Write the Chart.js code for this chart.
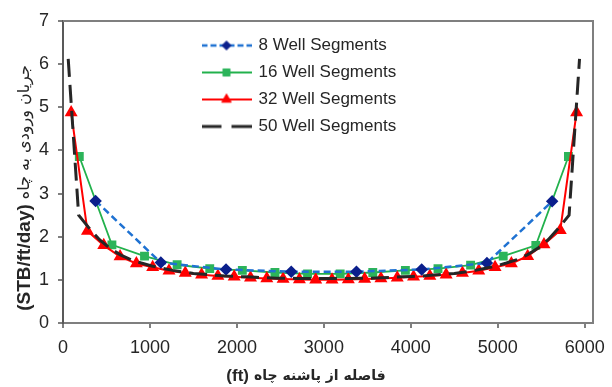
<!DOCTYPE html>
<html>
<head>
<meta charset="utf-8">
<script src="https://cdn.jsdelivr.net/npm/chart.js@4.4.1/dist/chart.umd.min.js"></script>
<style>
  html, body { margin: 0; padding: 0; background: #fff; }
</style>
</head>
<body>
<canvas id="inflow-Chart" width="612" height="387"></canvas>
<script>
const seriesNames = ["8 Well Segments", "16 Well Segments", "32 Well Segments", "50 Well Segments"];

const x8 = [375, 1125, 1875, 2625, 3375, 4125, 4875, 5625];
const y8 = [2.83, 1.40, 1.24, 1.19, 1.19, 1.24, 1.39, 2.82];

const x16 = [187.5, 562.5, 937.5, 1312.5, 1687.5, 2062.5, 2437.5, 2812.5,
  3187.5, 3562.5, 3937.5, 4312.5, 4687.5, 5062.5, 5437.5, 5812.5];
const y16 = [3.86, 1.81, 1.55, 1.35, 1.26, 1.22, 1.17, 1.14,
  1.14, 1.17, 1.22, 1.26, 1.34, 1.55, 1.80, 3.86];

const x32 = [93.75, 281.25, 468.75, 656.25, 843.75, 1031.25, 1218.75, 1406.25,
  1593.75, 1781.25, 1968.75, 2156.25, 2343.75, 2531.25, 2718.75, 2906.25,
  3093.75, 3281.25, 3468.75, 3656.25, 3843.75, 4031.25, 4218.75, 4406.25,
  4593.75, 4781.25, 4968.75, 5156.25, 5343.75, 5531.25, 5718.75, 5906.25];
const y32 = [4.88, 2.13, 1.80, 1.54, 1.38, 1.29, 1.21, 1.16,
  1.12, 1.09, 1.07, 1.05, 1.03, 1.02, 1.01, 1.00,
  1.00, 1.01, 1.02, 1.03, 1.05, 1.07, 1.09, 1.12,
  1.16, 1.21, 1.29, 1.38, 1.55, 1.82, 2.15, 4.88];

const x50 = [60, 180, 300, 420, 540, 660, 780, 900, 1020, 1140,
  1260, 1380, 1500, 1620, 1740, 1860, 1980, 2100, 2220, 2340,
  2460, 2580, 2700, 2820, 2940, 3060, 3180, 3300, 3420, 3540,
  3660, 3780, 3900, 4020, 4140, 4260, 4380, 4500, 4620, 4740,
  4860, 4980, 5100, 5220, 5340, 5460, 5580, 5700, 5820, 5940];
const y50 = [6.12, 2.50, 2.20, 1.93, 1.73, 1.58, 1.47, 1.39, 1.32, 1.27,
  1.22, 1.18, 1.15, 1.13, 1.11, 1.09, 1.08, 1.07, 1.06, 1.05,
  1.04, 1.04, 1.03, 1.03, 1.03, 1.03, 1.03, 1.03, 1.04, 1.04,
  1.05, 1.06, 1.07, 1.08, 1.09, 1.11, 1.13, 1.15, 1.18, 1.22,
  1.27, 1.32, 1.39, 1.47, 1.58, 1.73, 1.93, 2.20, 2.50, 6.12];

const xTicks = [0, 1000, 2000, 3000, 4000, 5000, 6000];
const yTicks = [0, 1, 2, 3, 4, 5, 6, 7];

const xTitleUnit = "(ft)";
const xTitleName = "فاصله از پاشنه چاه";
const yTitleUnit = "(STB/ft/day)";
const yTitleName = "جریان ورودی به چاه";

const LATIN = '"Liberation Sans", Arial, sans-serif';
const AXIS = "#7f7f7f";
const TEXT = "#262626";

function pts(xs, ys) {
  return xs.map((x, i) => ({ x: x, y: ys[i] }));
}

// little line+marker pictures for the legend (Excel style samples)
function sample(color, dash, lw, marker, mColor, r) {
  const c = document.createElement("canvas");
  c.width = 50; c.height = 14;
  const g = c.getContext("2d");
  g.strokeStyle = color; g.lineWidth = lw; g.setLineDash(dash);
  g.beginPath(); g.moveTo(0, 7); g.lineTo(50, 7); g.stroke();
  g.setLineDash([]);
  if (marker) {
    g.fillStyle = mColor; g.strokeStyle = mColor; g.lineWidth = 1;
    g.beginPath();
    if (marker === "rectRot") {
      g.moveTo(25 - r, 7); g.lineTo(25, 7 - r); g.lineTo(25 + r, 7); g.lineTo(25, 7 + r);
    } else if (marker === "rect") {
      const s = r * Math.SQRT1_2;
      g.rect(25 - s, 7 - s, 2 * s, 2 * s);
    } else {
      g.moveTo(25, 7 - r); g.lineTo(25 + r * 0.866, 7 + r / 2); g.lineTo(25 - r * 0.866, 7 + r / 2);
    }
    g.closePath(); g.fill(); g.stroke();
  }
  return c;
}

const datasets = [
  {
    label: seriesNames[0], data: pts(x8, y8),
    borderColor: "#1f72d2", borderWidth: 2.5, borderDash: [7, 4],
    pointStyle: "rectRot", pointRadius: 4.5, pointBackgroundColor: "#0b1f8c", pointBorderColor: "#0b1f8c",
    order: 1, sample: sample("#1f72d2", [6, 3], 2.5, "rectRot", "#0b1f8c", 4.5)
  },
  {
    label: seriesNames[1], data: pts(x16, y16),
    borderColor: "#22b14c", borderWidth: 1.8,
    pointStyle: "rect", pointRadius: 5, pointBackgroundColor: "#2cb45a", pointBorderColor: "#2cb45a",
    order: 3, sample: sample("#22b14c", [], 1.8, "rect", "#2cb45a", 5)
  },
  {
    label: seriesNames[2], data: pts(x32, y32),
    borderColor: "#ff0000", borderWidth: 2,
    pointStyle: "triangle", pointRadius: 5.5, pointBackgroundColor: "#ff0000", pointBorderColor: "#ff0000",
    order: 2, sample: sample("#ff0000", [], 2, "triangle", "#ff0000", 5.5)
  },
  {
    label: seriesNames[3], data: pts(x50, y50),
    borderColor: "#262626", borderWidth: 3, borderDash: [18, 8],
    pointRadius: 0,
    order: 0, sample: sample("#262626", [20, 10], 3, null)
  }
];

// put the legend inside the plot, like the original
const legendSpot = {
  id: "legendSpot",
  afterLayout(chart) {
    const lg = chart.legend;
    lg.left = 193; lg.right = 193 + lg.width;
    lg.top = 27; lg.bottom = 27 + lg.height;
  }
};

// top/right frame plus the two axis titles
const frameAndTitles = {
  id: "frameAndTitles",
  afterDraw(chart) {
    const ctx = chart.ctx, a = chart.chartArea;
    ctx.save();
    ctx.strokeStyle = AXIS; ctx.lineWidth = 2;
    ctx.beginPath();
    ctx.moveTo(a.left, a.top); ctx.lineTo(a.right, a.top); ctx.lineTo(a.right, a.bottom);
    ctx.stroke();

    ctx.fillStyle = TEXT; ctx.textBaseline = "middle"; ctx.textAlign = "left";
    // x title
    ctx.font = "bold 17px " + LATIN;
    const u1 = ctx.measureText(xTitleUnit).width;
    ctx.font = 'bold 14px "DejaVu Sans", sans-serif';
    const n1 = ctx.measureText(xTitleName).width;
    let x0 = 306 - (u1 + 5 + n1) / 2;
    ctx.font = "bold 17px " + LATIN;
    ctx.fillText(xTitleUnit, x0, 376);
    ctx.font = 'bold 14px "DejaVu Sans", sans-serif';
    ctx.fillText(xTitleName, x0 + u1 + 5, 376);

    // y title, rotated
    ctx.translate(25, 188);
    ctx.rotate(-Math.PI / 2);
    ctx.font = "bold 19px " + LATIN;
    const u2 = ctx.measureText(yTitleUnit).width;
    ctx.font = '16px "DejaVu Sans", sans-serif';
    const n2 = ctx.measureText(yTitleName).width;
    x0 = -(u2 + 5 + n2) / 2;
    ctx.font = "bold 19px " + LATIN;
    ctx.fillText(yTitleUnit, x0, 0);
    ctx.font = '16px "DejaVu Sans", sans-serif';
    ctx.fillText(yTitleName, x0 + u2 + 5, 0);
    ctx.restore();
  }
};

const config = {
  type: "line",
  data: { datasets: datasets },
  options: {
    responsive: false,
    animation: false,
    layout: { padding: { top: 21, right: 19, left: 0, bottom: 0 } },
    elements: { line: { tension: 0, fill: false }, point: { borderWidth: 1 } },
    plugins: {
      tooltip: { enabled: false },
      legend: {
        position: "chartArea",
        align: "start",
        labels: {
          usePointStyle: true,
          pointStyleWidth: 47,
          padding: 10,
          color: TEXT,
          font: { family: LATIN, size: 17 },
          generateLabels(chart) {
            return chart.data.datasets.map((d, i) => ({
              text: d.label, pointStyle: d.sample, fontColor: TEXT,
              lineWidth: 0, strokeStyle: "transparent", fillStyle: "transparent",
              hidden: !chart.isDatasetVisible(i), datasetIndex: i
            }));
          }
        }
      }
    },
    scales: {
      x: {
        type: "linear", min: 0, max: 6095,
        afterBuildTicks(s) { s.ticks = xTicks.map(v => ({ value: v })); },
        afterFit(s) { s.height = 64; s.paddingLeft = 0; s.paddingRight = 0; },
        ticks: {
          includeBounds: false, color: TEXT, font: { family: LATIN, size: 18 }, padding: 9, maxRotation: 0,
          callback: (v) => String(v)
        },
        grid: { drawOnChartArea: false, tickLength: 5, color: AXIS, lineWidth: 2 },
        border: { color: AXIS, width: 2 }
      },
      y: {
        min: 0, max: 7,
        afterBuildTicks(s) { s.ticks = yTicks.map(v => ({ value: v })); },
        afterFit(s) { s.width = 63; },
        ticks: { color: TEXT, font: { family: LATIN, size: 18 }, padding: 9 },
        grid: { drawOnChartArea: false, tickLength: 5, color: AXIS, lineWidth: 2 },
        border: { color: "#595959", width: 2 }
      }
    }
  },
  plugins: [legendSpot, frameAndTitles]
};

let myChart = new Chart(document.getElementById("inflow-Chart"), config);
</script>
</body>
</html>
